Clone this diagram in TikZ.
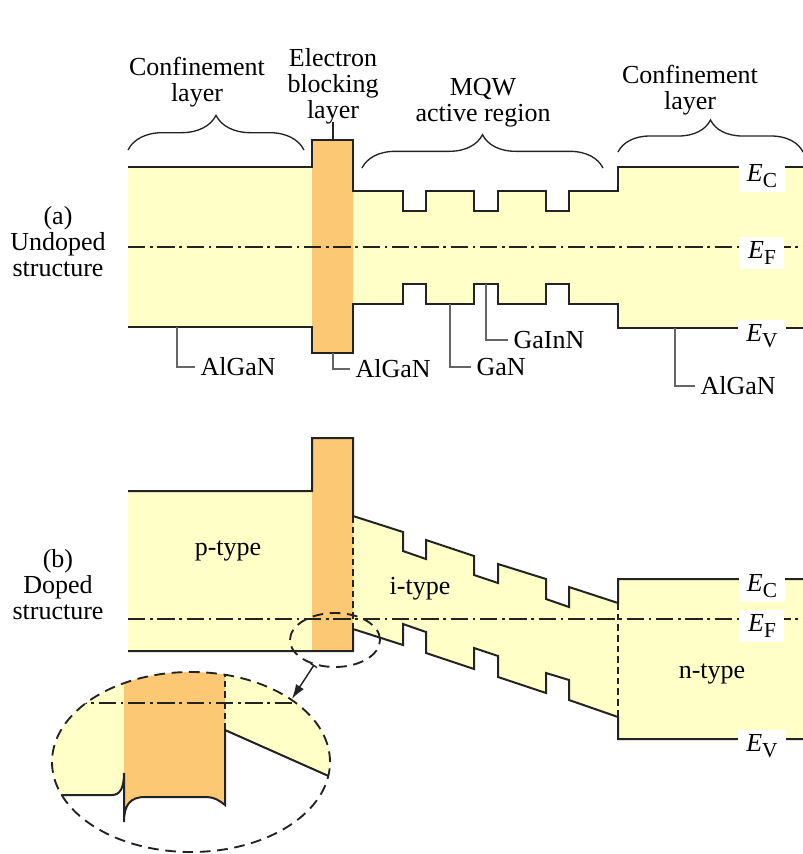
\documentclass[tikz,border=0pt]{standalone}
\usepackage{fontspec}
\setmainfont{Liberation Serif}
\usetikzlibrary{decorations.pathreplacing,arrows.meta,shapes.geometric}
\definecolor{bandY}{RGB}{255,255,200}
\definecolor{bandO}{RGB}{252,200,115}
\definecolor{lineK}{RGB}{35,35,35}
\newcommand\bandsub[1]{\raisebox{-0.55ex}{\fontsize{16}{16}\selectfont #1}}
\begin{document}
\begin{tikzpicture}[x=0.75pt,y=-0.75pt,
  txt/.style={font=\fontsize{19.5}{19.5}\selectfont, align=center, inner sep=0pt},
  lab/.style={font=\fontsize{19.5}{19.5}\selectfont, inner xsep=4pt, inner ysep=1pt},
  band/.style={draw=lineK, line width=1.5pt, line join=miter},
  fermi/.style={draw=lineK, line width=1.2pt, dash pattern=on 13pt off 3.5pt on 2pt off 3.5pt},
  bound/.style={draw=lineK, line width=0.9pt, dash pattern=on 5pt off 3pt},
  leader/.style={draw=black!60, line width=1pt},
  bracestyle/.style={draw=lineK, line width=1pt, decorate, decoration={brace, amplitude=#1}},
  elab/.style={fill=white, inner xsep=6pt, inner ysep=3pt, font=\fontsize{19.5}{19.5}\selectfont},
  zoomring/.style={draw=lineK, line width=1.4pt, dash pattern=on 8pt off 5pt, ellipse, inner sep=0pt}
]
\useasboundingbox (0,0) rectangle (803,854);

% ---------------- (a) undoped ----------------
\fill[bandY] (128,167) -- (312,167) -- (312,140) -- (353,140) -- (353,191) -- (403,191) -- (403,211) -- (426,211) -- (426,191) -- (474,191) -- (474,211) -- (498,211) -- (498,191) -- (546,191) -- (546,211) -- (569,211) -- (569,191) -- (618,191) -- (618,167) -- (803,167)
  -- (803,328) -- (618,328) -- (618,304) -- (569,304) -- (569,284) -- (546,284) -- (546,304) -- (498,304) -- (498,284) -- (474,284) -- (474,304) -- (426,304) -- (426,284) -- (403,284) -- (403,304) -- (353,304) -- (353,353) -- (312,353) -- (312,327) -- (128,327) -- cycle;
\fill[bandO] (312,140) rectangle (353,353);
\draw[fermi] (128,247) -- (803,247);
\draw[band] (128,167) -- (312,167) -- (312,140) -- (353,140) -- (353,191) -- (403,191) -- (403,211) -- (426,211) -- (426,191) -- (474,191) -- (474,211) -- (498,211) -- (498,191) -- (546,191) -- (546,211) -- (569,211) -- (569,191) -- (618,191) -- (618,167) -- (803,167);
\draw[band] (803,328) -- (618,328) -- (618,304) -- (569,304) -- (569,284) -- (546,284) -- (546,304) -- (498,304) -- (498,284) -- (474,284) -- (474,304) -- (426,304) -- (426,284) -- (403,284) -- (403,304) -- (353,304) -- (353,353) -- (312,353) -- (312,327) -- (128,327);

\node[elab] (ec1) at (762,176) {\textit{E}\bandsub{C}};
\node[elab] (ef1) at (762,253) {\textit{E}\bandsub{F}};
\node[elab] (ev1) at (762,336) {\textit{E}\bandsub{V}};

% braces and headings
\draw[bracestyle=26pt] (128,150) -- (304,150);
\draw[bracestyle=25pt] (362,168) -- (603,168);
\draw[bracestyle=24pt] (618,152) -- (803,152);
\coordinate (ebltop) at (333,140);
\coordinate (ebltick) at (333,122);
\draw[lineK, line width=1pt] (ebltop) -- (ebltick);

\node[txt] (t1) at (197,82) {Confinement\\layer};
\node[txt] (t2) at (333,86) {Electron\\blocking\\layer};
\node[txt] (t3) at (483,103) {MQW\\active region};
\node[txt] (t4) at (690,90) {Confinement\\layer};
\node[txt] (ta) at (58,242) {(a)\\Undoped\\structure};

% material labels
\node[lab, anchor=west] (la1) at (195,367) {AlGaN};
\node[lab, anchor=west] (la2) at (350,369) {AlGaN};
\node[lab, anchor=west] (la3) at (471,367) {GaN};
\node[lab, anchor=west] (la4) at (508,340) {GaInN};
\node[lab, anchor=west] (la5) at (695,386) {AlGaN};
\coordinate (p1) at (177,327);
\coordinate (p2) at (333,353);
\coordinate (p3) at (450,304);
\coordinate (p4) at (486,284);
\coordinate (p5) at (675,328);
\draw[leader] (p1) |- (la1.west);
\draw[leader] (p2) |- (la2.west);
\draw[leader] (p3) |- (la3.west);
\draw[leader] (p4) |- (la4.west);
\draw[leader] (p5) |- (la5.west);

% ---------------- (b) doped ----------------
\fill[bandY] (128,491) -- (312,491) -- (312,438) -- (353,438) -- (353,516) -- (403,532) -- (403,551) -- (426,559) -- (426,540) -- (474,556) -- (474,575) -- (498,583) -- (498,564) -- (546,579) -- (546,599) -- (569,607) -- (569,587) -- (618,603) -- (618,579) -- (803,579)
  -- (803,739) -- (618,739) -- (618,717) -- (569,700) -- (569,680) -- (546,673) -- (546,693) -- (498,677) -- (498,656) -- (474,648) -- (474,669) -- (426,653) -- (426,632) -- (403,624) -- (403,645) -- (353,629) -- (353,651) -- (128,651) -- cycle;
\fill[bandO] (312,438) rectangle (353,651);
\draw[bound] (353,516) -- (353,629);
\draw[bound] (618,603) -- (618,717);
\draw[fermi] (128,619) -- (803,619);
\draw[band] (128,491) -- (312,491) -- (312,438) -- (353,438) -- (353,516) -- (403,532) -- (403,551) -- (426,559) -- (426,540) -- (474,556) -- (474,575) -- (498,583) -- (498,564) -- (546,579) -- (546,599) -- (569,607) -- (569,587) -- (618,603) -- (618,579) -- (803,579);
\draw[band] (803,739) -- (618,739) -- (618,717) -- (569,700) -- (569,680) -- (546,673) -- (546,693) -- (498,677) -- (498,656) -- (474,648) -- (474,669) -- (426,653) -- (426,632) -- (403,624) -- (403,645) -- (353,629) -- (353,651) -- (128,651);

\node[elab] (ec2) at (762,586) {\textit{E}\bandsub{C}};
\node[elab] (ef2) at (762,626) {\textit{E}\bandsub{F}};
\node[elab] (ev2) at (762,746) {\textit{E}\bandsub{V}};

\node[txt] (tb) at (58,585) {(b)\\Doped\\structure};
\node[txt] (tp) at (228,551) {p-type};
\node[txt] (ti) at (420,589) {i-type};
\node[txt] (tn) at (712,674) {n-type};

% ---------------- magnified view ----------------
\begin{scope}
  \clip (191,762) ellipse [x radius=104.25pt, y radius=67.5pt];
  \fill[bandY] (40,600) -- (124,600) -- (124,773) .. controls (124,788) and (120,795) .. (112,795) -- (40,795) -- cycle;
  \fill[bandO] (124,600) -- (225,600) -- (225,805) .. controls (220,801) and (215,797) .. (205,797) -- (145,797) .. controls (130,797) and (124,805) .. (124,822) -- cycle;
  \fill[bandY] (225,600) -- (360,600) -- (360,790) -- (225,730) -- cycle;
  \draw[fermi] (40,703) -- (340,703);
  \draw[band] (40,795) -- (112,795) .. controls (120,795) and (124,788) .. (124,773) -- (124,822) .. controls (124,805) and (130,797) .. (145,797) -- (205,797) .. controls (215,797) and (220,801) .. (225,805) -- (225,730) -- (360,790);
  \draw[bound] (225,730) -- (225,600);
\end{scope}
\node[zoomring, minimum width=208.5pt, minimum height=135pt] (zbig) at (191,762) {};
\node[zoomring, minimum width=67.5pt, minimum height=40.5pt] (zsmall) at (335,640) {};
\draw[lineK, line width=1.1pt, {Bar[width=6pt]}-{Latex[length=11pt,width=7pt]}] (zsmall.230) -- (zbig.32);
\end{tikzpicture}
\end{document}
